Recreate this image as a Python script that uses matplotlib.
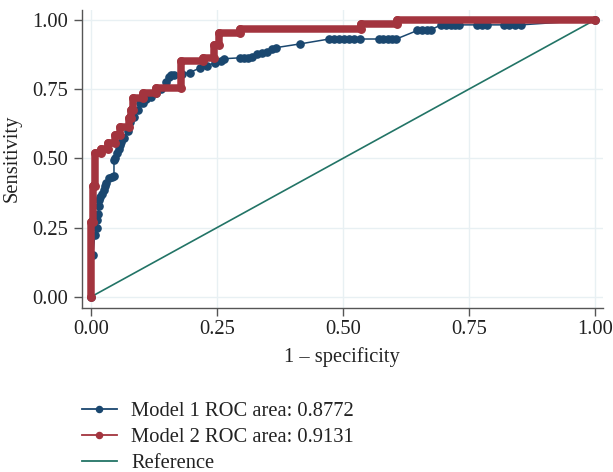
import matplotlib
matplotlib.use("Agg")
import matplotlib.pyplot as plt
from matplotlib.lines import Line2D

plt.rcParams['font.family'] = ['Liberation Serif', 'DejaVu Serif']

# Model 1 ROC points (1 - specificity, sensitivity)
m1_x = [0.0, 0.004, 0.008, 0.012, 0.013, 0.015, 0.016, 0.016, 0.018, 0.022, 0.026, 0.028, 0.030,
        0.036, 0.042, 0.046, 0.046, 0.048, 0.052, 0.055, 0.057, 0.060, 0.065, 0.073, 0.077, 0.085,
        0.093, 0.097, 0.103, 0.110, 0.120, 0.130, 0.140, 0.150, 0.156, 0.160, 0.166, 0.180, 0.196,
        0.216, 0.230, 0.246, 0.258, 0.265, 0.295, 0.303, 0.311, 0.319, 0.329, 0.340, 0.349, 0.360,
        0.368, 0.414, 0.473, 0.483, 0.493, 0.503, 0.513, 0.523, 0.533, 0.572, 0.580, 0.590, 0.598,
        0.606, 0.648, 0.657, 0.666, 0.675, 0.695, 0.705, 0.715, 0.722, 0.730, 0.766, 0.776, 0.786,
        0.820, 0.830, 0.842, 0.853, 1.0]
m1_y = [0.0, 0.150, 0.224, 0.250, 0.278, 0.300, 0.330, 0.350, 0.360, 0.370, 0.386, 0.400, 0.410,
        0.430, 0.433, 0.435, 0.495, 0.500, 0.520, 0.535, 0.550, 0.560, 0.575, 0.600, 0.630, 0.650,
        0.675, 0.700, 0.700, 0.715, 0.720, 0.735, 0.750, 0.776, 0.794, 0.800, 0.800, 0.805, 0.810,
        0.826, 0.835, 0.845, 0.852, 0.860, 0.863, 0.863, 0.863, 0.866, 0.877, 0.880, 0.884, 0.895,
        0.900, 0.913, 0.931, 0.931, 0.931, 0.931, 0.931, 0.931, 0.931, 0.931, 0.931, 0.931, 0.931,
        0.931, 0.962, 0.965, 0.965, 0.965, 0.982, 0.982, 0.982, 0.982, 0.982, 0.982, 0.982, 0.982,
        0.982, 0.982, 0.982, 0.982, 1.0]

# Model 2 ROC step vertices
m2_x = [0.0, 0.0, 0.004, 0.004, 0.008, 0.008, 0.020, 0.020, 0.035, 0.035, 0.048, 0.048, 0.058,
        0.058, 0.075, 0.075, 0.080, 0.080, 0.083, 0.083, 0.103, 0.103, 0.130, 0.130, 0.178, 0.178,
        0.222, 0.222, 0.245, 0.245, 0.255, 0.255, 0.295, 0.295, 0.535, 0.535, 0.607, 0.607, 1.0]
m2_y = [0.0, 0.270, 0.270, 0.400, 0.400, 0.520, 0.520, 0.535, 0.535, 0.555, 0.555, 0.585, 0.585,
        0.615, 0.615, 0.645, 0.645, 0.675, 0.675, 0.718, 0.718, 0.735, 0.735, 0.755, 0.755, 0.850,
        0.850, 0.863, 0.863, 0.910, 0.910, 0.953, 0.953, 0.967, 0.967, 0.985, 0.985, 1.0, 1.0]

ref_x = [0.0, 1.0]
ref_y = [0.0, 1.0]

labels = ["Model 1 ROC area: 0.8772", "Model 2 ROC area: 0.9131", "Reference"]
ticks = [0.0, 0.25, 0.5, 0.75, 1.0]
tick_labels = ["0.00", "0.25", "0.50", "0.75", "1.00"]

BLUE = '#1a476f'
RED = '#a3343e'
TEAL = '#227466'
GRID = '#e8f0f3'
AXC = '#555555'
FS = 14.8

fig = plt.figure(figsize=(6.13, 4.72), dpi=100)
ax = fig.add_axes([0.1333, 0.3485, 0.9837 - 0.1333, 0.979 - 0.3485])

ax.set_xlim(-0.018, 1.016)
ax.set_ylim(-0.038, 1.036)

for t in ticks:
    ax.axhline(t, color=GRID, lw=1.0, zorder=0)
    ax.axvline(t, color=GRID, lw=1.0, zorder=0)

ax.plot(ref_x, ref_y, color=TEAL, lw=1.2, zorder=2)
ax.plot(m1_x, m1_y, color=BLUE, lw=1.1, marker='o', ms=5.2, mec=BLUE, mfc=BLUE,
        zorder=3, solid_joinstyle='round')
ax.plot(m2_x, m2_y, color=RED, lw=5.4, solid_joinstyle='round', solid_capstyle='round',
        zorder=4)
ax.plot(m2_x, m2_y, ls='none', marker='o', ms=5.4, color=RED, zorder=4)

for s in ['top', 'right']:
    ax.spines[s].set_visible(False)
for s in ['left', 'bottom']:
    ax.spines[s].set_color(AXC)
    ax.spines[s].set_linewidth(1.0)

ax.set_xticks(ticks)
ax.set_xticklabels(tick_labels)
ax.set_yticks(ticks)
ax.set_yticklabels(tick_labels)
ax.tick_params(axis='both', direction='out', length=5.5, width=1.0, color=AXC,
               labelsize=FS, labelcolor='#222222')
ax.tick_params(axis='y', pad=4.0)
ax.tick_params(axis='x', pad=3.5)

ax.set_xlabel("1 – specificity", fontsize=FS, color='#222222', labelpad=6)
ax.set_ylabel("Sensitivity", fontsize=FS, color='#222222', labelpad=8)

handles = [
    Line2D([0, 0.5, 1], [0, 0, 0], color=BLUE, lw=1.3, marker='o', ms=4.4, markevery=[1]),
    Line2D([0, 0.5, 1], [0, 0, 0], color=RED, lw=1.3, marker='o', ms=4.4, markevery=[1]),
    Line2D([0], [0], color=TEAL, lw=1.3),
]
fig.legend(handles, labels, loc='upper left', bbox_to_anchor=(0.1338, 0.149),
           frameon=False, fontsize=FS, handlelength=1.7, handletextpad=0.7,
           labelspacing=0.33, borderpad=0, borderaxespad=0, labelcolor='#222222')

fig.savefig("out.png", dpi=100)
